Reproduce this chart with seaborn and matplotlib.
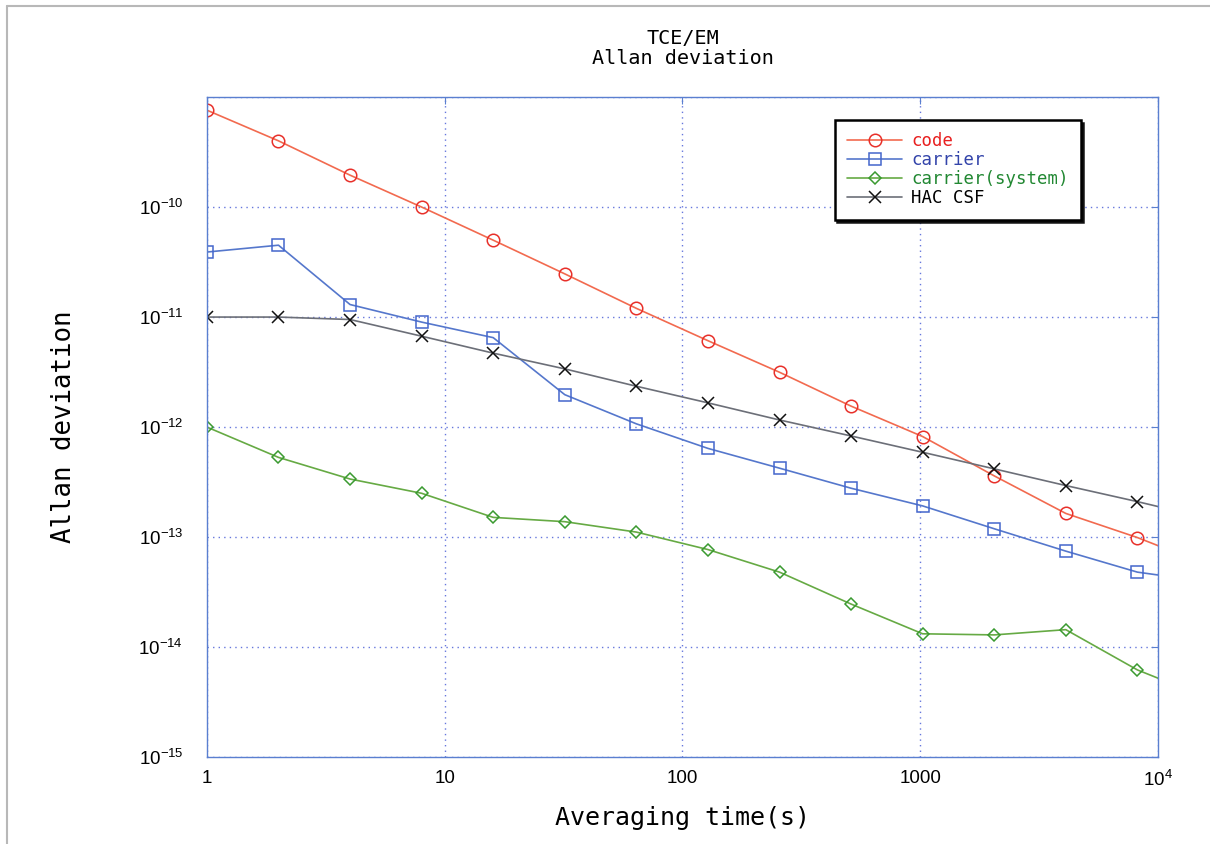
import numpy as np
import pandas as pd
import seaborn as sns
import matplotlib.pyplot as plt
from matplotlib.lines import Line2D

# averaging times (s); last point lies outside the x range and is clipped
tau = [1, 2, 4, 8, 16, 32, 64, 128, 256, 512, 1024, 2048, 4096, 8192, 16384]

code = [7.6e-10, 4.0e-10, 1.95e-10, 1.0e-10, 5.0e-11, 2.47e-11, 1.2e-11, 6.1e-12,
        3.15e-12, 1.55e-12, 8.2e-13, 3.6e-13, 1.64e-13, 9.9e-14, 5.5e-14]
carrier = [3.9e-11, 4.5e-11, 1.3e-11, 9.0e-12, 6.5e-12, 1.97e-12, 1.07e-12, 6.4e-13,
           4.23e-13, 2.78e-13, 1.92e-13, 1.19e-13, 7.45e-14, 4.8e-14, 3.9e-14]
carrier_sys = [1.0e-12, 5.3e-13, 3.37e-13, 2.5e-13, 1.51e-13, 1.38e-13, 1.11e-13, 7.7e-14,
               4.8e-14, 2.46e-14, 1.32e-14, 1.29e-14, 1.44e-14, 6.2e-15, 3.4e-15]
hac_csf = [1.0e-11, 1.0e-11, 9.5e-12, 6.7e-12, 4.7e-12, 3.38e-12, 2.35e-12, 1.66e-12,
           1.16e-12, 8.3e-13, 5.9e-13, 4.17e-13, 2.94e-13, 2.1e-13, 1.47e-13]

series_names = ["code", "carrier", "carrier(system)", "HAC CSF"]
series_vals = [code, carrier, carrier_sys, hac_csf]
line_colors = ["#f26a4f", "#5577cc", "#66aa44", "#6c6f78"]
marker_colors = ["#e8302a", "#4466cc", "#3a9a30", "#111111"]
text_colors = ["#e82020", "#3344aa", "#228833", "#000000"]
markers = ["o", "s", "D", "x"]
marker_sizes = [9, 9, 6.5, 9]

xticks = [1, 10, 100, 1000, 10000]
xlabels = ["1", "10", "100", "1000", r"$\mathdefault{10^{4}}$"]
yticks = [1e-15, 1e-14, 1e-13, 1e-12, 1e-11, 1e-10, 1e-9]
ylabels = [r"$\mathdefault{10^{%d}}$" % e for e in range(-15, -9)] + [""]

sns.set_style("white")
plt.rcParams["font.family"] = ["Liberation Sans", "DejaVu Sans"]
plt.rcParams["mathtext.default"] = "regular"
plt.rcParams["text.color"] = "black"
plt.rcParams["axes.labelcolor"] = "black"
mono = "DejaVu Sans Mono"

fig = plt.figure(figsize=(12.1, 8.44), dpi=100)
ax = fig.add_axes([0.171, 0.103, 0.786, 0.782])
ax.set_xscale("log")
ax.set_yscale("log")

for name, vals, lc, mc, m, ms in zip(series_names, series_vals, line_colors,
                                      marker_colors, markers, marker_sizes):
    df = pd.DataFrame({"tau": tau, "adev": vals})
    sns.lineplot(data=df, x="tau", y="adev", ax=ax, color=lc, lw=1.2,
                 marker=m, markersize=ms, markerfacecolor="none",
                 markeredgecolor=mc, markeredgewidth=1.1, label=name)

ax.set_xlim(1, 10000)
ax.set_ylim(1e-15, 1e-9)
ax.set_xticks(xticks, xlabels)
ax.set_yticks(yticks, ylabels)
ax.minorticks_off()
ax.tick_params(axis="both", which="major", direction="in", length=5, color="#5a7fd0",
               labelcolor="black", labelsize=13.5, top=True, right=True)
ax.tick_params(axis="y", pad=17)
ax.tick_params(axis="x", pad=9)
ax.grid(True, which="major", color="#6677dd", linestyle=(0, (1, 3)), lw=1.0)
for sp in ax.spines.values():
    sp.set_color("#5a7fd0")
    sp.set_linewidth(1.0)

ax.set_xlabel("Averaging time(s)", fontsize=18, family=mono, labelpad=12)
ax.set_ylabel("Allan deviation", fontsize=18.5, family=mono, labelpad=44)
ax.set_title("TCE/EM\nAllan deviation", fontsize=14.5, family=mono, pad=24,
             linespacing=1.05)

leg = ax.legend(loc="upper left", bbox_to_anchor=(0.66, 0.965), frameon=True,
                fancybox=False, shadow={"color": "#111111", "alpha": 1.0},
                prop={"family": mono, "size": 12.5}, handlelength=3.2,
                labelspacing=0.06, borderpad=0.7, handletextpad=0.5,
                borderaxespad=0)
leg.get_frame().set_edgecolor("black")
leg.get_frame().set_linewidth(1.8)
for txt, c in zip(leg.get_texts(), text_colors):
    txt.set_color(c)

# faint scan border along top and left
fig.add_artist(Line2D([7 / 1210, 1], [1 - 6 / 844] * 2, color="#b8b8b8", lw=1.5))
fig.add_artist(Line2D([7 / 1210] * 2, [0, 1 - 6 / 844], color="#b8b8b8", lw=1.5))

fig.savefig("out.png", dpi=100)
